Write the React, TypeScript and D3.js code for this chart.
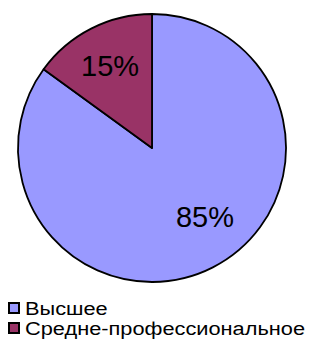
import React, { useRef, useEffect } from "react";
import * as d3 from "d3";

const categories = ["Высшее", "Средне-профессиональное"];
const values = [85, 15];
const colors = ["#9999FF", "#993366"];

const W = 310;
const H = 343;

const App = () => {
  const svgRef = useRef<SVGSVGElement>(null);

  useEffect(() => {
    const svg = d3.select(svgRef.current);
    svg.selectAll("*").remove();

    const cx = 152;
    const cy = 148;
    const radius = 134;

    const data = categories.map((c, i) => ({ name: c, value: values[i] }));
    const color = d3.scaleOrdinal<string, string>().domain(categories).range(colors);

    // clockwise from 12 o'clock, big slice first
    const pie = d3
      .pie<{ name: string; value: number }>()
      .value((d) => d.value)
      .sort(null);

    const arc = d3
      .arc<d3.PieArcDatum<{ name: string; value: number }>>()
      .innerRadius(0)
      .outerRadius(radius);

    const labelArc = d3
      .arc<d3.PieArcDatum<{ name: string; value: number }>>()
      .innerRadius(radius * 0.69)
      .outerRadius(radius * 0.69);

    const g = svg.append("g").attr("transform", `translate(${cx},${cy})`);
    const arcs = pie(data);

    g.selectAll("path")
      .data(arcs)
      .enter()
      .append("path")
      .attr("d", arc)
      .attr("fill", (d) => color(d.data.name))
      .attr("stroke", "#000")
      .attr("stroke-width", 1.8)
      .attr("stroke-linejoin", "round");

    const total = d3.sum(values);
    g.selectAll("text.label")
      .data(arcs)
      .enter()
      .append("text")
      .attr("class", "label")
      .attr("transform", (d) => {
        const [x, y] = labelArc.centroid(d);
        // the big slice's label sits a bit up and to the right
        return d.data.value > 50 ? `translate(${x + 11},${y - 14})` : `translate(${x},${y})`;
      })
      .attr("text-anchor", "middle")
      .attr("dy", "0.36em")
      .style("font-family", "Liberation Sans, Arial, sans-serif")
      .style("font-size", "29px")
      .attr("fill", "#000")
      .text((d) => `${Math.round((d.data.value / total) * 100)}%`);

    // legend
    const legend = svg
      .selectAll(".legend")
      .data(categories)
      .enter()
      .append("g")
      .attr("class", "legend")
      .attr("transform", (d, i) => `translate(8, ${302 + i * 20})`);

    legend
      .append("rect")
      .attr("x", 1)
      .attr("y", 1)
      .attr("width", 10)
      .attr("height", 10)
      .attr("fill", (d) => color(d))
      .attr("stroke", "#000")
      .attr("stroke-width", 2);

    legend
      .append("text")
      .attr("transform", "translate(17, 13) scale(1.21, 1)")
      .style("font-family", "Liberation Sans, Arial, sans-serif")
      .style("font-size", "18px")
      .attr("fill", "#000")
      .text((d) => d);
  }, []);

  return (
    <svg
      ref={svgRef}
      width={W}
      height={H}
      style={{ position: "absolute", left: 0, top: 0, background: "#fff" }}
    />
  );
};

export default App;
